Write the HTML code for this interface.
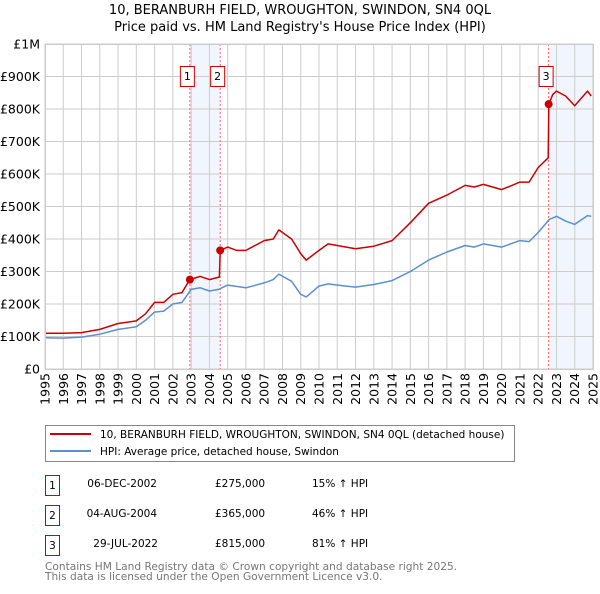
<!DOCTYPE html>
<html><head><meta charset="utf-8"><style>
body{margin:0;background:#fff;font-family:"DejaVu Sans","Liberation Sans",sans-serif;}
svg text{font-family:"DejaVu Sans","Liberation Sans",sans-serif;}
</style></head><body>
<svg id="chart" width="600" height="590" viewBox="0 0 600 590" xmlns="http://www.w3.org/2000/svg">
<text x="300" y="14" text-anchor="middle" font-size="13">10, BERANBURH FIELD, WROUGHTON, SWINDON, SN4 0QL</text>
<text x="300" y="31" text-anchor="middle" font-size="13">Price paid vs. HM Land Registry's House Price Index (HPI)</text>
<g id="plot"></g>
<g>
<rect x="45.5" y="425.5" width="469" height="36" fill="#fff" stroke="#888"/>
<line x1="50" y1="434" x2="91" y2="434" stroke="#cc0000" stroke-width="2"/>
<text x="100" y="438" font-size="10.5">10, BERANBURH FIELD, WROUGHTON, SWINDON, SN4 0QL (detached house)</text>
<line x1="50" y1="451" x2="91" y2="451" stroke="#5b8fd0" stroke-width="2"/>
<text x="100" y="455" font-size="10.5">HPI: Average price, detached house, Swindon</text>
</g>
<g font-size="10.5">
<rect x="45.5" y="475.5" width="14" height="20" fill="#fff" stroke="#cc0000"/><text x="52.5" y="489" text-anchor="middle">1</text>
<text x="157" y="487" text-anchor="end">06-DEC-2002</text><text x="215" y="487">£275,000</text><text x="312" y="487">15% ↑ HPI</text>
<rect x="45.5" y="505.5" width="14" height="20" fill="#fff" stroke="#cc0000"/><text x="52.5" y="519" text-anchor="middle">2</text>
<text x="157" y="517" text-anchor="end">04-AUG-2004</text><text x="215" y="517">£365,000</text><text x="312" y="517">46% ↑ HPI</text>
<rect x="45.5" y="535.5" width="14" height="20" fill="#fff" stroke="#cc0000"/><text x="52.5" y="549" text-anchor="middle">3</text>
<text x="158" y="547" text-anchor="end">29-JUL-2022</text><text x="215" y="547">£815,000</text><text x="312" y="547">81% ↑ HPI</text>
</g>
<text x="45" y="570" font-size="10.6" fill="#777">Contains HM Land Registry data © Crown copyright and database right 2025.</text>
<text x="45" y="580" font-size="10.6" fill="#777">This data is licensed under the Open Government Licence v3.0.</text>
</svg>
<script>
const hpiDates=[1995,1996,1997,1998,1999,2000,2000.5,2001,2001.5,2002,2002.5,2003,2003.5,2004,2004.5,2005,2006,2007,2007.5,2007.8,2008.5,2009,2009.3,2010,2010.5,2011,2012,2013,2014,2015,2016,2017,2018,2018.5,2019,2020,2021,2021.5,2022,2022.6,2023,2023.5,2024,2024.7,2024.9];
const hpiValues=[96,95,98,107,122,130,150,175,178,200,205,245,250,240,245,258,250,265,275,292,270,230,222,255,262,258,252,260,272,300,335,360,380,375,385,375,395,392,420,460,470,455,445,472,470];
const redDates=[1995,1996,1997,1998,1999,2000,2000.5,2001,2001.5,2002,2002.5,2002.92,2003.5,2004,2004.55,2004.59,2005,2005.5,2006,2007,2007.5,2007.8,2008.5,2009,2009.3,2010,2010.5,2011,2012,2013,2014,2015,2016,2017,2018,2018.5,2019,2020,2021,2021.5,2022,2022.55,2022.58,2022.8,2023,2023.5,2024,2024.7,2024.9];
const redValues=[110,110,112,122,140,148,170,205,205,230,235,275,285,275,283,365,375,365,365,395,400,428,400,355,335,365,385,380,370,378,395,450,510,535,565,560,568,552,575,575,620,650,815,845,855,840,810,855,840];
const saleDates=[2002.93,2004.59,2022.57];
const saleValues=[275,365,815];
const saleLabels=["1","2","3"];
const yTicks=[0,100,200,300,400,500,600,700,800,900,1000];
const yTickLabels=["£0","£100K","£200K","£300K","£400K","£500K","£600K","£700K","£800K","£900K","£1M"];
const xYears=[1995,1996,1997,1998,1999,2000,2001,2002,2003,2004,2005,2006,2007,2008,2009,2010,2011,2012,2013,2014,2015,2016,2017,2018,2019,2020,2021,2022,2023,2024,2025];
const NS="http://www.w3.org/2000/svg";
const L=45,R=593,T=44,B=369;
const x=d=>L+(d-1995)/30*(R-L);
const y=v=>B-v/1000*(B-T);
const g=document.getElementById('plot');
function mk(tag,attrs,parent){const e=document.createElementNS(NS,tag);for(const k in attrs)e.setAttribute(k,attrs[k]);(parent||g).appendChild(e);return e;}
const sh1=mk('rect',{x:x(saleDates[0]),y:T,width:x(saleDates[1])-x(saleDates[0]),height:B-T,fill:'#eef3fc',opacity:0.8});


const sh2=mk('rect',{x:x(saleDates[2]),y:T,width:R-x(saleDates[2]),height:B-T,fill:'#eef3fc',opacity:0.8});


yTicks.forEach((v,i)=>{
 const ln=mk('line',{x1:L,x2:R,y1:y(v),y2:y(v),stroke:'#cccccc'});
 
 
 const t=mk('text',{x:40,y:y(v)+4.5,'text-anchor':'end','font-size':'12.5'});t.textContent=yTickLabels[i];
 
 
});
xYears.forEach(yr=>{
 const ln=mk('line',{x1:x(yr),x2:x(yr),y1:T,y2:B,stroke:'#cccccc'});
 
 
 const t=mk('text',{x:0,y:0,'text-anchor':'end','font-size':'12.5',transform:`translate(${x(yr)+4.5},${373}) rotate(-90)`});t.textContent=yr;
 
 
});
saleDates.forEach((d,i)=>{
 const ln=mk('line',{x1:x(d),x2:x(d),y1:T,y2:B,stroke:'#ff6666','stroke-dasharray':'2,2'});
 
 
});
function path(ds,vs,col,name){
 const p=mk('path',{d:ds.map((d,i)=>(i?'L':'M')+x(d).toFixed(1)+','+y(vs[i]).toFixed(1)).join(''),fill:'none',stroke:col,'stroke-width':1.5,'stroke-linejoin':'round'});
 
 
}
path(hpiDates,hpiValues,'#5b8fd0','hpi-line');
path(redDates,redValues,'#cc0000','property-price-line');
saleDates.forEach((d,i)=>{
 const c=mk('circle',{cx:x(d),cy:y(saleValues[i]),r:4,fill:'#cc0000'});
 
 
 const r=mk('rect',{x:x(d)-9.5,y:66.5,width:14,height:20,fill:'#fff',stroke:'#cc0000'});
 
 
 const t=mk('text',{x:x(d)-2.5,y:80,'text-anchor':'middle','font-size':'11'});t.textContent=saleLabels[i];
 
 
});
const ax=mk('rect',{x:L+0.5,y:T+0.5,width:R-L,height:B-T,fill:'none',stroke:'#cccccc'});


</script>
</body></html>
